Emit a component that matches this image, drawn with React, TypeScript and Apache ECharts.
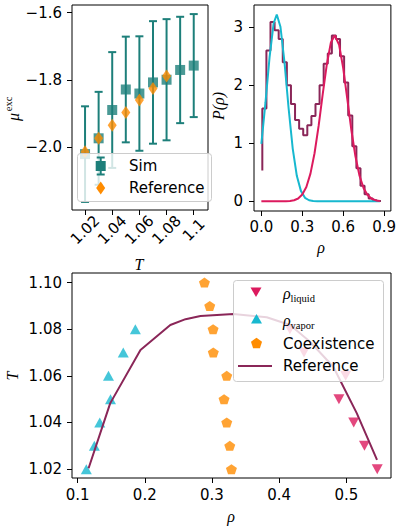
import React, { useEffect, useRef } from "react";
import * as echarts from "echarts";

const TEAL = "#1d7f7a";
const ORANGE = "#ff8c00";
const CYAN = "#17b8cf";
const CRIMSON = "#dc1a5e";
const WINE = "#8a2658";

// ---- Panel A: excess chemical potential vs T ----
const simT = [1.02, 1.03, 1.04, 1.05, 1.06, 1.07, 1.08, 1.09, 1.1];
const simMu = [-2.02, -1.973, -1.889, -1.828, -1.84, -1.807, -1.799, -1.77, -1.757];
const simErr = [0.142, 0.138, 0.172, 0.157, 0.17, 0.182, 0.18, 0.158, 0.153];
const refT = [1.02, 1.03, 1.04, 1.05, 1.06, 1.07, 1.08];
const refMu = [-2.013, -1.973, -1.934, -1.896, -1.859, -1.825, -1.788];
const aXTicks = [1.02, 1.04, 1.06, 1.08, 1.1];
const aYTicks = [-2.0, -1.8, -1.6];

// ---- Panel B: density histogram ----
const histRho = [0.007, 0.037, 0.067, 0.097, 0.127, 0.157, 0.187, 0.217, 0.247, 0.277, 0.307, 0.337, 0.367, 0.397, 0.427, 0.457, 0.487, 0.517, 0.547, 0.577, 0.607, 0.637, 0.667, 0.697, 0.727, 0.757, 0.787, 0.817, 0.847, 0.877];
const histP = [0.53, 1.6, 2.6, 3.09, 2.95, 2.8, 2.4, 2.0, 1.68, 1.4, 1.25, 1.14, 1.31, 1.47, 1.68, 2.0, 2.37, 2.55, 2.86, 2.8, 2.5, 2.05, 1.48, 0.95, 0.57, 0.27, 0.12, 0.05, 0.02, 0.005];
const vapRho = [0, 0.03, 0.06, 0.09, 0.113, 0.14, 0.17, 0.2, 0.23, 0.26, 0.29, 0.32, 0.35, 0.38, 0.41, 0.44, 0.5, 0.6, 0.7, 0.8, 0.87];
const vapP = [0.99, 1.7, 2.48, 3.07, 3.22, 3.01, 2.39, 1.6, 0.91, 0.44, 0.18, 0.061, 0.018, 0.004, 0.001, 0, 0, 0, 0, 0, 0];
const liqRho = [0, 0.1, 0.18, 0.21, 0.24, 0.27, 0.3, 0.33, 0.36, 0.39, 0.42, 0.45, 0.48, 0.51, 0.538, 0.57, 0.6, 0.63, 0.66, 0.69, 0.72, 0.75, 0.78, 0.81, 0.84, 0.87];
const liqP = [0, 0, 0.002, 0.007, 0.019, 0.049, 0.116, 0.248, 0.477, 0.829, 1.3, 1.85, 2.36, 2.74, 2.86, 2.7, 2.3, 1.77, 1.23, 0.775, 0.44, 0.225, 0.104, 0.044, 0.016, 0.006];
const bXTicks = [0, 0.3, 0.6, 0.9];
const bYTicks = [0, 1, 2, 3];

// ---- Panel C: phase diagram ----
const phaseT = [1.02, 1.03, 1.04, 1.05, 1.06, 1.07, 1.08];
const rhoLiquid = [0.546, 0.527, 0.511, 0.489, 0.499, 0.437, 0.416];
const rhoVapor = [0.113, 0.125, 0.133, 0.149, 0.146, 0.168, 0.186];
const coexT = [1.02, 1.03, 1.04, 1.05, 1.06, 1.07, 1.08, 1.09, 1.1];
const coexRho = [0.329, 0.3265, 0.322, 0.318, 0.322, 0.302, 0.3017, 0.2967, 0.2888];
const curveRho = [0.1164, 0.1485, 0.1936, 0.238, 0.2607, 0.2829, 0.332, 0.3815, 0.4164, 0.446, 0.4806, 0.5155, 0.5457];
const curveT = [1.0204, 1.0482, 1.0711, 1.0818, 1.0843, 1.0857, 1.0865, 1.0851, 1.0818, 1.0746, 1.0639, 1.044, 1.024];
const cXTicks = [0.1, 0.2, 0.3, 0.4, 0.5];
const cYTicks = [1.02, 1.04, 1.06, 1.08, 1.1];

const SANS = "DejaVu Sans";
const SERIF = "Liberation Serif";

function axis(gridIndex: number, min: number, max: number, ticks: number[], fmt: (v: number) => string, margin: number, extra: any = {}) {
  return {
    type: "value",
    gridIndex,
    min,
    max,
    splitLine: { show: false },
    axisLine: { show: false, onZero: false },
    axisTick: { show: true, customValues: ticks, length: 5, lineStyle: { color: "#000", width: 1 } },
    axisLabel: { customValues: ticks, formatter: fmt, color: "#000", fontSize: 15, fontFamily: SANS, margin, ...extra },
  };
}

function txt(text: string, x: number, y: number, size: number, family: string, opts: any = {}) {
  return {
    type: "text",
    x,
    y,
    z: 100,
    rotation: opts.rotation || 0,
    style: {
      text,
      fontSize: size,
      fontFamily: family,
      fontStyle: opts.italic ? "italic" : "normal",
      fill: "#000",
      align: opts.align || "center",
      textAlign: opts.align || "center",
      verticalAlign: "middle",
      textVerticalAlign: "middle",
    },
  };
}

function buildOption() {
  const gridBase = { show: true, borderColor: "#000", borderWidth: 1, backgroundColor: "transparent" };
  const minus = (v: number) => (v < 0 ? "\u2212" : "") + Math.abs(v).toFixed(1);
  const pent = (cx: number, cy: number, r: number) =>
    [0, 1, 2, 3, 4].map((k) => {
      const a = -Math.PI / 2 + (k * 2 * Math.PI) / 5;
      return [cx + r * Math.cos(a), cy + r * Math.sin(a)];
    });
  const legStroke = "#cccccc";
  const capStyle = { stroke: TEAL, lineWidth: 2 };

  return {
    animation: false,
    grid: [
      { ...gridBase, left: 72, top: 5, width: 136, height: 205 },
      { ...gridBase, left: 254, top: 5, width: 137, height: 206 },
      { ...gridBase, left: 72, top: 273, width: 319, height: 205 },
    ],
    xAxis: [
      axis(0, 1.0104, 1.1105, aXTicks, (v) => String(+v.toFixed(2)), 20, { rotate: 45, align: "center", verticalAlign: "middle" }),
      axis(1, -0.054, 0.95, bXTicks, (v) => v.toFixed(1), 8),
      axis(2, 0.0917, 0.5665, cXTicks, (v) => v.toFixed(1), 9),
    ],
    yAxis: [
      axis(0, -2.186, -1.577, aYTicks, minus, 10),
      axis(1, -0.167, 3.385, bYTicks, (v) => String(Math.round(v)), 11),
      axis(2, 1.0162, 1.1041, cYTicks, (v) => v.toFixed(2), 10),
    ],
    series: [
      {
        type: "custom",
        name: "SimErr",
        xAxisIndex: 0,
        yAxisIndex: 0,
        z: 2,
        data: simT.map((t, i) => [t, simMu[i] - simErr[i], simMu[i] + simErr[i]]),
        encode: { x: 0, y: [1, 2] },
        renderItem: (params: any, api: any) => {
          const x = api.value(0);
          const lo = api.coord([x, api.value(1)]);
          const hi = api.coord([x, api.value(2)]);
          const c = 4;
          return {
            type: "group",
            children: [
              { type: "line", shape: { x1: lo[0], y1: lo[1], x2: hi[0], y2: hi[1] }, style: capStyle },
              { type: "line", shape: { x1: lo[0] - c, y1: lo[1], x2: lo[0] + c, y2: lo[1] }, style: capStyle },
              { type: "line", shape: { x1: hi[0] - c, y1: hi[1], x2: hi[0] + c, y2: hi[1] }, style: capStyle },
            ],
          };
        },
      },
      {
        type: "scatter",
        name: "Sim",
        xAxisIndex: 0,
        yAxisIndex: 0,
        z: 3,
        symbol: "rect",
        symbolSize: 10,
        itemStyle: { color: TEAL },
        data: simT.map((t, i) => [t, simMu[i]]),
      },
      {
        type: "scatter",
        name: "Reference",
        xAxisIndex: 0,
        yAxisIndex: 0,
        z: 4,
        symbol: "diamond",
        symbolSize: [9, 13],
        itemStyle: { color: ORANGE },
        data: refT.map((t, i) => [t, refMu[i]]),
      },
      {
        type: "line",
        name: "Histogram",
        xAxisIndex: 1,
        yAxisIndex: 1,
        step: "start",
        symbol: "none",
        z: 2,
        lineStyle: { color: WINE, width: 2 },
        data: histRho.map((r, i) => [r, histP[i]]),
      },
      {
        type: "line",
        name: "Vapor fit",
        xAxisIndex: 1,
        yAxisIndex: 1,
        symbol: "none",
        z: 3,
        lineStyle: { color: CYAN, width: 2 },
        data: vapRho.map((r, i) => [r, vapP[i]]),
      },
      {
        type: "line",
        name: "Liquid fit",
        xAxisIndex: 1,
        yAxisIndex: 1,
        symbol: "none",
        z: 3,
        lineStyle: { color: CRIMSON, width: 2 },
        data: liqRho.map((r, i) => [r, liqP[i]]),
      },
      {
        type: "scatter",
        name: "rho_liquid",
        xAxisIndex: 2,
        yAxisIndex: 2,
        symbol: "triangle",
        symbolRotate: 180,
        symbolSize: [11, 10],
        itemStyle: { color: CRIMSON },
        data: phaseT.map((t, i) => [rhoLiquid[i], t]),
      },
      {
        type: "scatter",
        name: "rho_vapor",
        xAxisIndex: 2,
        yAxisIndex: 2,
        symbol: "triangle",
        symbolSize: [11, 10],
        itemStyle: { color: CYAN },
        data: phaseT.map((t, i) => [rhoVapor[i], t]),
      },
      {
        type: "scatter",
        name: "Coexistence",
        xAxisIndex: 2,
        yAxisIndex: 2,
        symbol: "path://M50,0 L97.55,34.55 L79.39,90.45 L20.61,90.45 L2.45,34.55 Z",
        symbolKeepAspect: true,
        symbolSize: [11, 10.5],
        itemStyle: { color: ORANGE },
        data: coexT.map((t, i) => [coexRho[i], t]),
      },
      {
        type: "line",
        name: "Reference curve",
        xAxisIndex: 2,
        yAxisIndex: 2,
        symbol: "none",
        z: 4,
        lineStyle: { color: WINE, width: 2 },
        data: curveRho.map((r, i) => [r, curveT[i]]),
      },
    ],
    graphic: [
      // axis titles
      txt("T", 139, 264, 16, SERIF, { italic: true }),
      txt("\u03bc", 13, 117, 16, SERIF, { italic: true, rotation: Math.PI / 2 }),
      txt("exc", 8.5, 104, 10.5, SERIF, { rotation: Math.PI / 2 }),
      txt("P(\u03c1)", 218, 106, 16, SERIF, { italic: true, rotation: Math.PI / 2 }),
      txt("\u03c1", 321, 247, 16, SERIF, { italic: true }),
      txt("T", 12, 376, 16, SERIF, { italic: true, rotation: Math.PI / 2 }),
      txt("\u03c1", 231, 516, 16, SERIF, { italic: true }),
      // legend A
      {
        type: "rect",
        z: 100,
        shape: { x: 77.5, y: 153.5, width: 134, height: 48, r: 3 },
        style: { fill: "rgba(255,255,255,0.8)", stroke: legStroke, lineWidth: 1 },
      },
      { type: "line", z: 101, shape: { x1: 100.7, y1: 157.5, x2: 100.7, y2: 174.5 }, style: capStyle },
      { type: "line", z: 101, shape: { x1: 96.7, y1: 157.5, x2: 104.7, y2: 157.5 }, style: capStyle },
      { type: "line", z: 101, shape: { x1: 96.7, y1: 174.5, x2: 104.7, y2: 174.5 }, style: capStyle },
      { type: "rect", z: 101, shape: { x: 95.7, y: 161, width: 10, height: 10 }, style: { fill: TEAL } },
      {
        type: "polygon",
        z: 101,
        shape: { points: [[100.7, 181.5], [105.2, 188], [100.7, 194.5], [96.2, 188]] },
        style: { fill: ORANGE },
      },
      { ...txt("Sim", 129, 166, 15, SANS, { align: "left" }), z: 101 },
      { ...txt("Reference", 129, 188, 15, SANS, { align: "left" }), z: 101 },
      // legend C
      {
        type: "rect",
        z: 100,
        shape: { x: 233.5, y: 280.5, width: 150, height: 101, r: 3 },
        style: { fill: "rgba(255,255,255,0.8)", stroke: legStroke, lineWidth: 1 },
      },
      {
        type: "polygon",
        z: 101,
        shape: { points: [[250.5, 287.5], [261.5, 287.5], [256, 297]] },
        style: { fill: CRIMSON },
      },
      {
        type: "polygon",
        z: 101,
        shape: { points: [[256.5, 314], [262, 323.5], [251, 323.5]] },
        style: { fill: CYAN },
      },
      { type: "polygon", z: 101, shape: { points: pent(256.5, 343.5, 5.8) }, style: { fill: ORANGE } },
      { type: "line", z: 101, shape: { x1: 238, y1: 366, x2: 272, y2: 366 }, style: { stroke: WINE, lineWidth: 2 } },
      { ...txt("\u03c1", 283, 293, 16, SERIF, { italic: true, align: "left" }), z: 101 },
      { ...txt("liquid", 290.5, 298.5, 10.5, SERIF, { align: "left" }), z: 101 },
      { ...txt("\u03c1", 283, 320.5, 16, SERIF, { italic: true, align: "left" }), z: 101 },
      { ...txt("vapor", 290.5, 325.5, 10.5, SERIF, { align: "left" }), z: 101 },
      { ...txt("Coexistence", 283, 344, 15, SANS, { align: "left" }), z: 101 },
      { ...txt("Reference", 283, 366, 15, SANS, { align: "left" }), z: 101 },
    ],
  };
}

export default function App() {
  const ref = useRef<HTMLDivElement>(null);
  useEffect(() => {
    if (!ref.current) return;
    const chart = echarts.init(ref.current, null, { renderer: "svg" });
    chart.setOption(buildOption() as any);
    return () => chart.dispose();
  }, []);
  return <div ref={ref} style={{ position: "absolute", left: 0, top: 0, width: 399, height: 532 }} />;
}
